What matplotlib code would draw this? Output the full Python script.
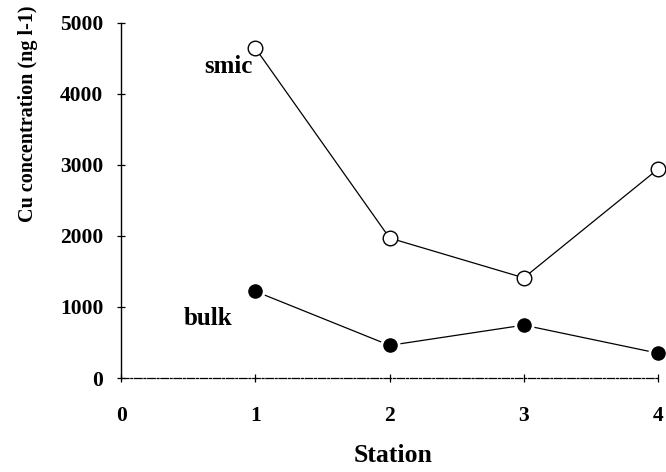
import matplotlib
matplotlib.use("Agg")
import matplotlib.pyplot as plt

# ── Data ──────────────────────────────────────────────────────────────────
stations = [1, 2, 3, 4]
smic = [4640, 1970, 1410, 2940]
bulk = [1220, 460, 745, 350]

x_ticks = [0, 1, 2, 3, 4]
y_ticks = [0, 1000, 2000, 3000, 4000, 5000]

FONT = "Liberation Serif"

fig = plt.figure(figsize=(6.66, 4.72), dpi=100, facecolor="white")
ax = fig.add_axes([0.182, 0.199, 0.806, 0.753])

ax.plot(stations, smic, color="black", lw=0.9, marker="o", ms=10.5,
        mfc="white", mec="black", mew=1.0, clip_on=False, zorder=3)
ax.plot(stations, bulk, color="black", lw=0.9, marker="o", ms=12.5,
        mfc="black", mec="white", mew=2.0, clip_on=False, zorder=3)

ax.text(0.98, 4380, "smic", ha="right", va="center", fontsize=18,
        fontweight="bold", family=FONT)
ax.text(0.65, 840, "bulk", ha="center", va="center", fontsize=18,
        fontweight="bold", family=FONT)

ax.set_xlim(0, 4)
ax.set_ylim(0, 5000)
ax.set_xticks(x_ticks)
ax.set_yticks(y_ticks)

for s in ["top", "right"]:
    ax.spines[s].set_visible(False)
ax.spines["left"].set_linewidth(1.0)
ax.spines["bottom"].set_linewidth(0.9)
ax.spines["bottom"].set_linestyle((0, (6, 1.5, 1.5, 1.5)))

ax.tick_params(axis="both", direction="inout", length=6, width=0.9)
ax.tick_params(axis="y", pad=10)
ax.tick_params(axis="x", pad=17)
for lbl in ax.get_xticklabels() + ax.get_yticklabels():
    lbl.set_fontfamily(FONT)
    lbl.set_fontweight("bold")
    lbl.set_fontsize(15.5)

fig.text(28 / 666, 1 - 114 / 472, "Cu concentration (ng l-1)", rotation=90,
         ha="center", va="center", fontsize=14.5, fontweight="bold", family=FONT)
fig.text(393 / 666, 1 - 455 / 472, "Station", ha="center", va="center",
         fontsize=18.5, fontweight="bold", family=FONT)

plt.savefig("out.png", dpi=100, facecolor="white")
